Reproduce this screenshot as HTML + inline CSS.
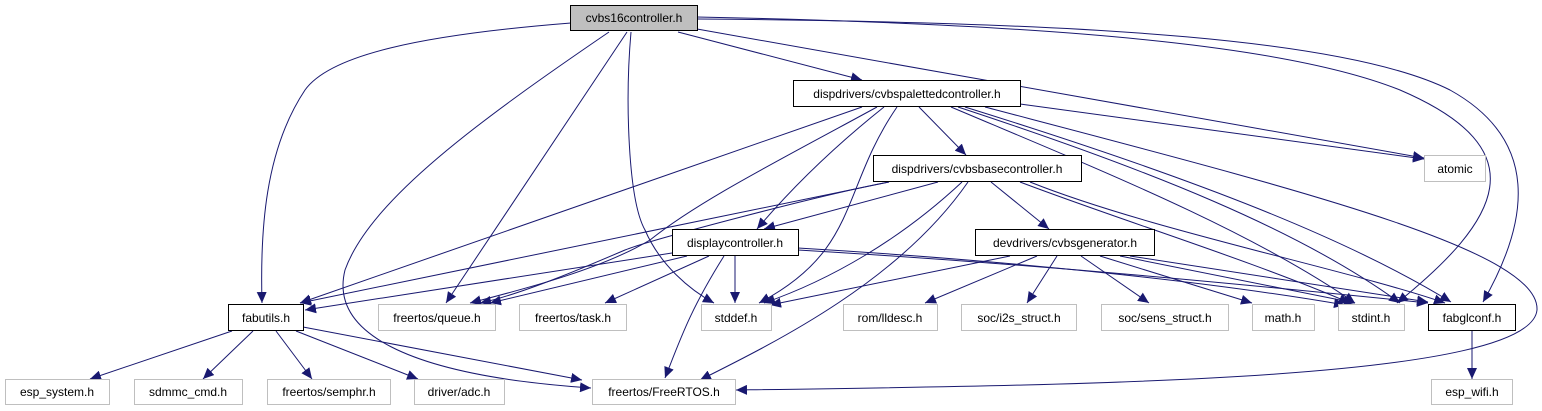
<!DOCTYPE html>
<html><head><meta charset="utf-8"><style>
html,body{margin:0;padding:0;background:#fff;}
svg{display:block;}
text{font-family:"Liberation Sans",Arial,sans-serif;font-size:12px;fill:#000;}
</style></head><body>
<svg width="1542" height="411" viewBox="0 0 1542 411" xmlns="http://www.w3.org/2000/svg">
<defs>
<marker id="a" markerUnits="userSpaceOnUse" markerWidth="12" markerHeight="10" refX="11" refY="5" orient="auto">
<path d="M0,0 L11,5 L0,10 Z" fill="#191970"/>
</marker>
</defs>
<g fill="none" stroke="#191970" stroke-width="1" marker-end="url(#a)">
<!-- from cvbs16controller -->
<path d="M571,23 C420,35 330,55 305,90 C265,150 260,230 262,303"/>
<path d="M609,32 C480,120 370,200 345,270 C330,330 400,375 591,388"/>
<path d="M627,32 L446,303"/>
<path d="M631,32 C625,100 628,200 645,230 C660,265 690,290 714,303"/>
<path d="M678,32 L862,80"/>
<path d="M697,29 L1424,158"/>
<path d="M697,17 C1100,25 1300,50 1400,90 C1540,150 1500,220 1397,303"/>
<path d="M697,19 C1100,22 1350,40 1450,90 C1540,140 1530,220 1483,302"/>
<!-- from cvbspalettedcontroller -->
<path d="M862,107 L300,303"/>
<path d="M877,107 C780,160 700,200 650,240 C600,270 520,290 470,303"/>
<path d="M884,107 C830,150 790,190 757,229"/>
<path d="M897,107 C840,190 860,250 759,303"/>
<path d="M919,107 L966,155"/>
<path d="M1020,104 L1424,159"/>
<path d="M951,107 C1100,170 1250,230 1355,303"/>
<path d="M958,107 C1150,170 1300,230 1400,303"/>
<path d="M965,107 C1200,180 1350,240 1451,302"/>
<path d="M985,107 C1300,190 1540,250 1537,310 C1530,380 1100,385 736,390"/>
<!-- from cvbsbasecontroller -->
<path d="M889,182 L300,303"/>
<path d="M889,182 C820,195 650,240 625,250 C590,265 520,295 480,303"/>
<path d="M938,182 L764,229"/>
<path d="M962,182 C900,240 830,280 764,303"/>
<path d="M968,182 C900,280 780,340 700,380"/>
<path d="M991,182 L1049,229"/>
<path d="M1020,182 C1120,220 1250,260 1350,303"/>
<path d="M1030,182 C1150,230 1350,270 1445,303"/>
<!-- from displaycontroller -->
<path d="M672,253 L305,310"/>
<path d="M687,256 L490,303"/>
<path d="M709,256 L605,303"/>
<path d="M735,256 L735,303"/>
<path d="M724,256 C690,310 680,340 665,378"/>
<path d="M798,248 C1000,260 1200,280 1345,305"/>
<path d="M798,250 C1050,265 1250,285 1428,303"/>
<!-- from cvbsgenerator -->
<path d="M1010,256 L770,305"/>
<path d="M1037,256 L925,303"/>
<path d="M1057,256 L1027,303"/>
<path d="M1081,256 L1149,303"/>
<path d="M1100,256 L1252,303"/>
<path d="M1120,256 L1355,303"/>
<path d="M1130,256 L1428,302"/>
<!-- from fabutils -->
<path d="M232,331 L90,379"/>
<path d="M253,331 L203,379"/>
<path d="M276,331 L312,379"/>
<path d="M296,331 L418,379"/>
<path d="M303,327 L582,380"/>
<!-- fabglconf -->
<path d="M1472,331 L1472,379"/>
</g>
<!-- nodes -->
<g stroke-width="1">
<rect x="570.5" y="5.5" width="127" height="25" fill="#bfbfbf" stroke="#000"/>
<rect x="793.5" y="80.5" width="227" height="26" fill="#fff" stroke="#000"/>
<rect x="873.5" y="155.5" width="208" height="26" fill="#fff" stroke="#000"/>
<rect x="672.5" y="229.5" width="126" height="26" fill="#fff" stroke="#000"/>
<rect x="975.5" y="229.5" width="179" height="26" fill="#fff" stroke="#000"/>
<rect x="228.5" y="304.5" width="75" height="26" fill="#fff" stroke="#000"/>
<rect x="1428.5" y="304.5" width="87" height="26" fill="#fff" stroke="#000"/>
<g fill="#fff" stroke="#bfbfbf">
<rect x="1424.5" y="155.5" width="61" height="26"/>
<rect x="378.5" y="304.5" width="117" height="26"/>
<rect x="519.5" y="304.5" width="107" height="26"/>
<rect x="701.5" y="304.5" width="70" height="26"/>
<rect x="843.5" y="304.5" width="94" height="26"/>
<rect x="961.5" y="304.5" width="115" height="26"/>
<rect x="1101.5" y="304.5" width="127" height="26"/>
<rect x="1252.5" y="304.5" width="62" height="26"/>
<rect x="1338.5" y="304.5" width="66" height="26"/>
<rect x="5.5" y="379.5" width="104" height="25"/>
<rect x="134.5" y="379.5" width="108" height="25"/>
<rect x="267.5" y="379.5" width="123" height="25"/>
<rect x="414.5" y="379.5" width="90" height="25"/>
<rect x="592.5" y="379.5" width="143" height="25"/>
<rect x="1431.5" y="379.5" width="81" height="25"/>
</g>
</g>
<g text-anchor="middle">
<text x="634" y="22">cvbs16controller.h</text>
<text x="907" y="98">dispdrivers/cvbspalettedcontroller.h</text>
<text x="977" y="173">dispdrivers/cvbsbasecontroller.h</text>
<text x="735" y="247">displaycontroller.h</text>
<text x="1065" y="247">devdrivers/cvbsgenerator.h</text>
<text x="266" y="322">fabutils.h</text>
<text x="1472" y="322">fabglconf.h</text>
<text x="1455" y="173">atomic</text>
<text x="437" y="322">freertos/queue.h</text>
<text x="573" y="322">freertos/task.h</text>
<text x="736" y="322">stddef.h</text>
<text x="890" y="322">rom/lldesc.h</text>
<text x="1019" y="322">soc/i2s_struct.h</text>
<text x="1165" y="322">soc/sens_struct.h</text>
<text x="1283" y="322">math.h</text>
<text x="1371" y="322">stdint.h</text>
<text x="57" y="396">esp_system.h</text>
<text x="188" y="396">sdmmc_cmd.h</text>
<text x="329" y="396">freertos/semphr.h</text>
<text x="459" y="396">driver/adc.h</text>
<text x="664" y="396">freertos/FreeRTOS.h</text>
<text x="1472" y="396">esp_wifi.h</text>
</g>
</svg>
</body></html>
